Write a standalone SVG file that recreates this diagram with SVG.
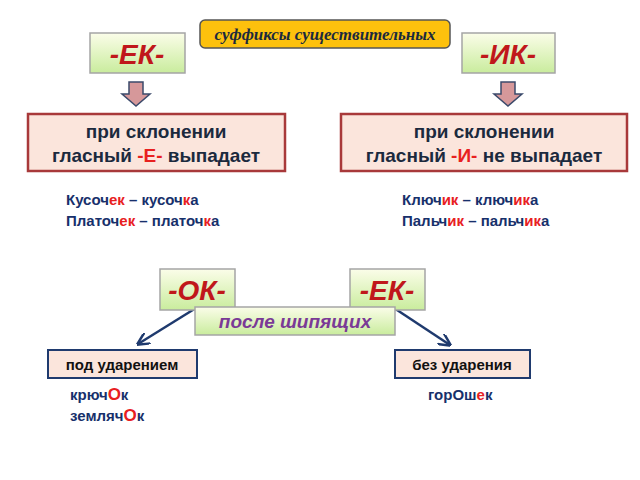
<svg xmlns="http://www.w3.org/2000/svg" width="640" height="480" viewBox="0 0 640 480">
<defs>
<linearGradient id="g" x1="0" y1="0" x2="0" y2="1"><stop offset="0" stop-color="#fbfde9"/><stop offset="1" stop-color="#c9ec9d"/></linearGradient>
<marker id="ah" viewBox="0 0 10 10" refX="9" refY="5" markerWidth="5" markerHeight="5" orient="auto"><path d="M0,0 L10,5 L0,10" fill="none" stroke="#1f3a6e" stroke-width="2"/></marker>
<style>
text{font-family:"Liberation Sans",Arial,sans-serif;font-weight:bold}
.gr{fill:url(#g);stroke:#a5a5a5;stroke-width:1.5}
.pk{fill:#fbe5dc;stroke:#a8393a;stroke-width:2.5}
.lb{fill:#fbe5dc;stroke:#1f3a6e;stroke-width:2}
.suf{font-size:28px;font-style:italic;fill:#c0171b}
.blk{font-size:19px;fill:#1b2a3e}
.ex{font-size:15px;fill:#17306b}
.r{fill:#e8201f}
.dar{fill:#d6989a;stroke:#3b4a6b;stroke-width:1.5}
</style>
</defs>
<rect width="640" height="480" fill="#fff"/>
<g id="title"><rect x="200" y="20" width="250" height="28" rx="5" fill="#fdc10d" stroke="#555" stroke-width="1.5"/><text x="325" y="40" text-anchor="middle" style="font-family:'Liberation Serif',serif;font-size:17px;font-style:italic;fill:#1b2a3e">суффиксы существительных</text></g>
<g id="ek1"><rect class="gr" x="90" y="33" width="95" height="40"/><text class="suf" x="137" y="64" text-anchor="middle">-ЕК-</text></g>
<g id="ik"><rect class="gr" x="462" y="33" width="93" height="40"/><text class="suf" x="508" y="64" text-anchor="middle">-ИК-</text></g>
<g id="arr1"><path class="dar" d="M129,82 H143 V94 H150 L136,106 L122,94 H129 Z"/></g>
<g id="arr2"><path class="dar" d="M501,82 H515 V94 H522 L508,106 L494,94 H501 Z"/></g>
<g id="rule1"><rect class="pk" x="28" y="114" width="257" height="57"/><text class="blk" x="156" y="138" text-anchor="middle">при склонении</text><text class="blk" x="156" y="162" text-anchor="middle">гласный <tspan class="r">-Е-</tspan> выпадает</text></g>
<g id="rule2"><rect class="pk" x="341" y="114" width="286" height="57"/><text class="blk" x="484" y="138" text-anchor="middle">при склонении</text><text class="blk" x="484" y="162" text-anchor="middle">гласный <tspan class="r">-И-</tspan> не выпадает</text></g>
<g id="ex1"><text class="ex" x="66" y="205">Кусоч<tspan class="r">ек</tspan> – кусоч<tspan class="r">к</tspan>а</text><text class="ex" x="66" y="226">Платоч<tspan class="r">ек</tspan> – платоч<tspan class="r">к</tspan>а</text></g>
<g id="ex2"><text class="ex" x="402" y="205">Ключ<tspan class="r">ик</tspan> – ключ<tspan class="r">ик</tspan>а</text><text class="ex" x="402" y="226">Пальч<tspan class="r">ик</tspan> – пальч<tspan class="r">ик</tspan>а</text></g>
<g id="connectors" stroke="#1f3a6e" stroke-width="2.5" marker-end="url(#ah)"><line x1="196" y1="308" x2="138" y2="344"/><line x1="394" y1="308" x2="450" y2="345"/></g>
<g id="ok"><rect class="gr" x="160" y="269" width="75" height="41"/><text class="suf" x="197" y="300" text-anchor="middle">-ОК-</text></g>
<g id="ek2"><rect class="gr" x="350" y="269" width="75" height="41"/><text class="suf" x="387" y="300" text-anchor="middle">-ЕК-</text></g>
<g id="posle"><rect class="gr" x="195" y="307" width="200" height="28"/><text x="295" y="328" text-anchor="middle" style="font-size:19px;font-style:italic;fill:#7a3a96">после шипящих</text></g>
<g id="pod"><rect class="lb" x="48" y="350" width="149" height="28"/><text x="122" y="370" text-anchor="middle" style="font-size:15px;fill:#111">под ударением</text></g>
<g id="bez"><rect class="lb" x="395" y="350" width="135" height="28"/><text x="462" y="370" text-anchor="middle" style="font-size:15px;fill:#111">без ударения</text></g>
<g id="ex3"><text class="ex" x="70" y="400">крюч<tspan class="r" style="font-size:17px">О</tspan>к</text><text class="ex" x="70" y="421">земляч<tspan class="r" style="font-size:17px">О</tspan>к</text></g>
<g id="ex4"><text class="ex" x="428" y="400">горОш<tspan class="r">е</tspan>к</text></g>
</svg>
